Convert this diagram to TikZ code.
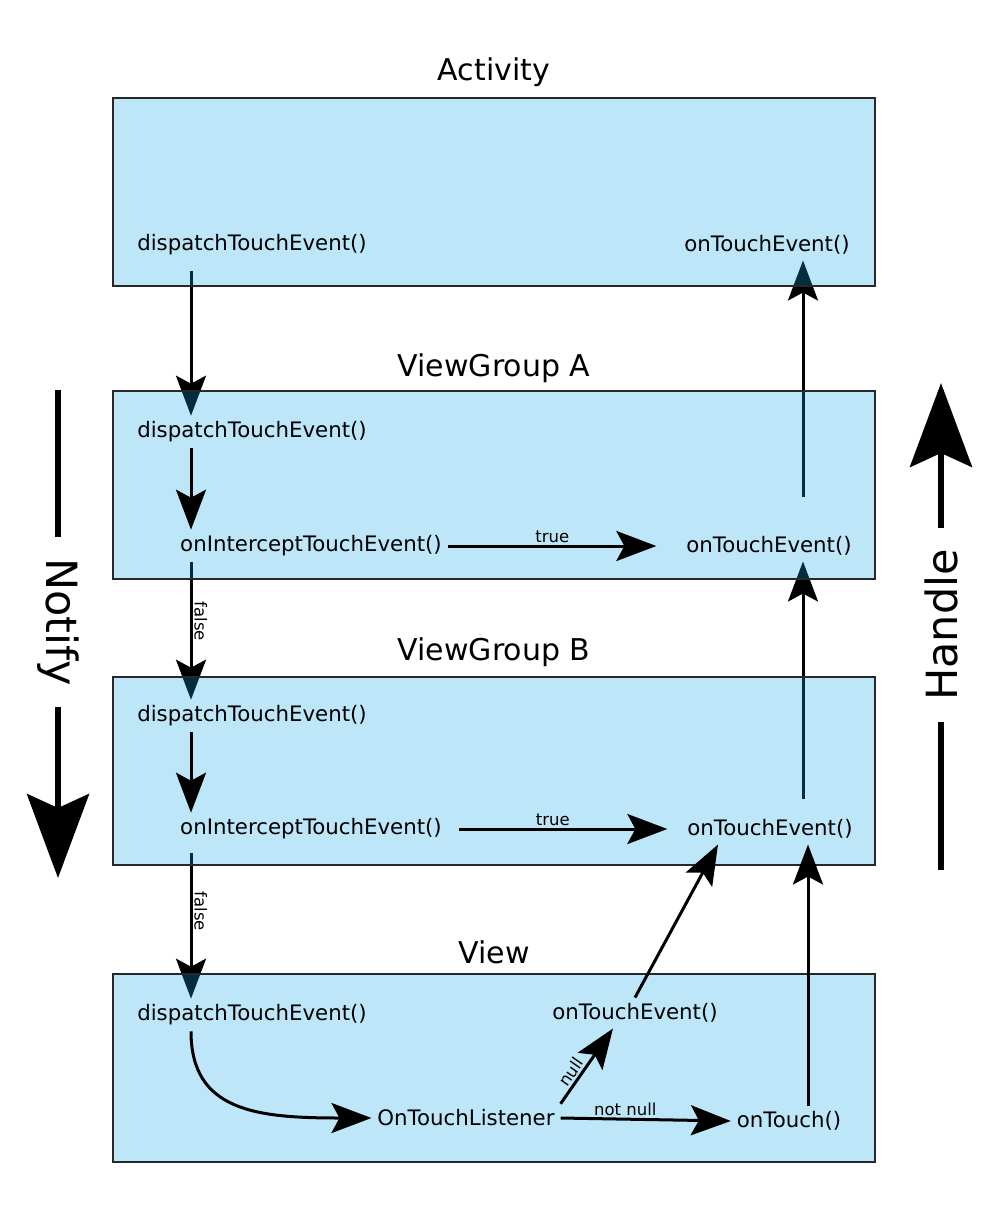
\documentclass[tikz,border=0pt]{standalone}
\usepackage{fontspec}
\setmainfont{DejaVu Sans}
\usetikzlibrary{arrows.meta}
\pgfdeclarelayer{under}
\pgfdeclarelayer{boxes}
\pgfsetlayers{under,boxes,main}
\definecolor{boxfill}{RGB}{10,167,230}
\definecolor{boxline}{RGB}{40,40,40}
\begin{document}
\begin{tikzpicture}[x=1pt,y=-1pt,
    box/.style={draw=boxline, line width=1.2pt, fill=boxfill, fill opacity=0.27, draw opacity=1},
    title/.style={font=\fontsize{30}{36}\selectfont, yshift=-2pt},
    call/.style={font=\fontsize{21.3}{26}\selectfont, inner sep=0pt, outer sep=6pt, yshift=-2pt},
    cond/.style={font=\fontsize{16.5}{19}\selectfont, inner sep=2pt},
    flow/.style={line width=3pt, -{Stealth[length=40pt,width=30pt,inset=8pt]}},
    bigline/.style={line width=6pt},
    bigflow/.style={bigline, -{Stealth[length=84pt,width=62pt,inset=14pt]}},
    side/.style={font=\fontsize{43}{50}\selectfont, inner sep=0pt, outer sep=21pt}]

    \useasboundingbox (0,0) rectangle (1000,1208);

    % columns of the vertical arrows
    \coordinate (colL) at (191,0);
    \coordinate (colR) at (803,0);
    \coordinate (colT) at (808,0);

    % Activity
    \node[title] (tAct) at (494,70) {Activity};
    \node[call] (aDisp) at (252,243) {dispatchTouchEvent()};
    \node[call] (aOnTE) at (767,243) {onTouchEvent()};

    % ViewGroup A
    \node[title] (tVGA) at (494,366) {ViewGroup A};
    \node[call] (gaDisp) at (252,430) {dispatchTouchEvent()};
    \node[call] (gaInt) at (311,544) {onInterceptTouchEvent()};
    \node[call] (gaOnTE) at (769,544) {onTouchEvent()};

    % ViewGroup B
    \node[title] (tVGB) at (494,650) {ViewGroup B};
    \node[call] (gbDisp) at (252,714) {dispatchTouchEvent()};
    \node[call] (gbInt) at (311,827) {onInterceptTouchEvent()};
    \node[call] (gbOnTE) at (770,827) {onTouchEvent()};

    % View
    \node[title] (tView) at (494,950) {View};
    \node[call] (vDisp) at (252,1013) {dispatchTouchEvent()};
    \node[call] (vOnTE) at (635,1011) {onTouchEvent()};
    \node[call] (vListener) at (466,1116) {OnTouchListener};
    \node[call] (vOnTouch) at (789,1119) {onTouch()};

    % the boxes, see-through over the arrows between them
    \begin{pgfonlayer}{boxes}
    \draw[box] (113,98) rectangle (875,286);
    \draw[box] (113,391) rectangle (875,579);
    \draw[box] (113,677) rectangle (875,865);
    \draw[box] (113,974) rectangle (875,1162);
    \end{pgfonlayer}

    % arrows under the boxes
    \begin{pgfonlayer}{under}
    \draw[flow, shorten <=10pt] (aDisp.south -| colL) -- (gaDisp.north -| colL);
    \draw[flow] (gaInt.south -| colL) -- node[cond, rotate=-90, anchor=south, pos=0.43] {false} (gbDisp.north -| colL);
    \draw[flow, shorten <=8pt] (gbInt.south -| colL) -- node[cond, rotate=-90, anchor=south, pos=0.43] {false} (vDisp.north -| colL);
    \draw[flow, shorten <=34pt] (gaOnTE.north -| colR) -- (aOnTE.south -| colR);
    \draw[flow, shorten <=15pt] (gbOnTE.north -| colR) -- (gaOnTE.south -| colR);
    \end{pgfonlayer}

    % arrows inside the boxes
    \draw[flow] (gaDisp.south -| colL) -- (gaInt.north -| colL);
    \draw[flow, shorten >=24pt] (gaInt) -- node[cond, above, pos=0.45] {true} (gaOnTE);
    \draw[flow] (gbDisp.south -| colL) -- (gbInt.north -| colL);
    \draw[flow, shorten <=11pt, shorten >=14pt] (gbInt) -- node[cond, above, pos=0.45] {true} (gbOnTE);

    % View
    \draw[flow] (vDisp.south -| colL) .. controls +(0,80) and +(-115,0) .. (vListener.west);
    \draw[flow] (vListener.north east) -- node[cond, sloped, above, pos=0.35] {null} ([xshift=-22pt]vOnTE.south);
    \draw[flow] (vListener.east) -- node[cond, above, pos=0.38] {not null} (vOnTouch.west);
    \draw[flow] (vOnTE.north) -- ([xshift=-52pt]gbOnTE.south);
    \draw[flow] (vOnTouch.north -| colT) -- (gbOnTE.south -| colT);

    % Notify
    \node[side, rotate=-90] (notify) at (58,622) {Notify};
    \coordinate (nTop) at (58,390);
    \coordinate (nTip) at (58,878);
    \draw[bigline] (nTop) -- (notify);
    \draw[bigflow] (notify) -- (nTip);

    % Handle
    \node[side, rotate=90] (handle) at (941,625) {Handle};
    \coordinate (hTip) at (941,383);
    \coordinate (hEnd) at (941,870);
    \draw[bigflow] (handle) -- (hTip);
    \draw[bigline] (handle) -- (hEnd);

\end{tikzpicture}
\end{document}
